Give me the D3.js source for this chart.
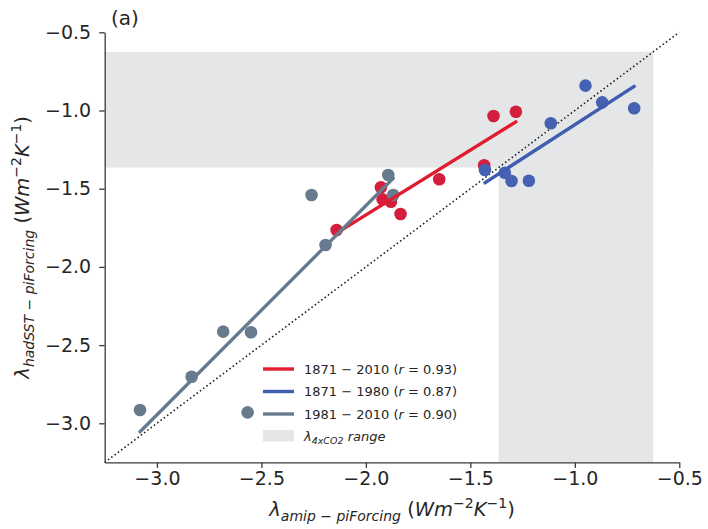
<!DOCTYPE html>
<html>
<head>
<meta charset="utf-8">
<script src="https://cdn.jsdelivr.net/npm/d3@7"></script>
<style>
  html, body { margin: 0; padding: 0; background: #fff; }
  svg { display: block; font-family: "DejaVu Sans", sans-serif; }
</style>
</head>
<body>
<svg id="chart" width="708" height="529"></svg>
<script>
// Feedback parameters: amip-piForcing (x) vs hadSST-piForcing (y)
const redX  = [-2.140, -1.928, -1.920, -1.880, -1.834, -1.649, -1.434, -1.389, -1.282];
const redY  = [-1.764, -1.491, -1.568, -1.583, -1.662, -1.440, -1.350, -1.035, -1.008];
const blueX = [-1.430, -1.335, -1.303, -1.220, -1.115, -0.949, -0.869, -0.716];
const blueY = [-1.380, -1.398, -1.451, -1.449, -1.082, -0.841, -0.948, -0.986];
const greyX = [-3.081, -2.834, -2.683, -2.550, -2.566, -2.260, -2.193, -1.893, -1.869];
const greyY = [-2.915, -2.702, -2.414, -2.418, -2.930, -1.540, -1.860, -1.412, -1.540];

// Range of the abrupt-4xCO2 feedback parameter
const range4x = [-1.365, -0.625];

const axisDomain = [-3.25, -0.5];
const tickValues = [-3.0, -2.5, -2.0, -1.5, -1.0, -0.5];

const seriesNames = ["1871 \u2212 2010", "1871 \u2212 1980", "1981 \u2212 2010"];
const seriesR = ["0.93", "0.87", "0.90"];

const colors = {
  red:   { dot: "#d31f3d", line: "#e21c2f" },
  blue:  { dot: "#4561b1", line: "#3f5eb0" },
  grey:  { dot: "#687a8e", line: "#687a8e" }
};

const svg = d3.select("#chart");
const margin = { left: 104.7, right: 28.7, top: 32.3, bottom: 66.6 };
const W = 708, H = 529;

const x = d3.scaleLinear().domain(axisDomain).range([margin.left, W - margin.right]);
const y = d3.scaleLinear().domain(axisDomain).range([H - margin.bottom, margin.top]);

// Shaded 4xCO2 range: horizontal and vertical bands
const band = svg.append("g").attr("fill", "#e5e6e8");
band.append("rect")
  .attr("x", x(axisDomain[0]))
  .attr("y", y(range4x[1]))
  .attr("width", x(range4x[1]) - x(axisDomain[0]))
  .attr("height", y(range4x[0]) - y(range4x[1]));
band.append("rect")
  .attr("x", x(range4x[0]))
  .attr("y", y(range4x[1]))
  .attr("width", x(range4x[1]) - x(range4x[0]))
  .attr("height", y(axisDomain[0]) - y(range4x[1]));

// 1:1 line
svg.append("line")
  .attr("x1", x(axisDomain[0])).attr("y1", y(axisDomain[0]))
  .attr("x2", x(axisDomain[1])).attr("y2", y(axisDomain[1]))
  .attr("stroke", "#1a1a1a").attr("stroke-width", 1.6)
  .attr("stroke-dasharray", "1.5,2.6");

function fit(xs, ys) {
  const mx = d3.mean(xs), my = d3.mean(ys);
  let sxy = 0, sxx = 0;
  xs.forEach((v, i) => { sxy += (v - mx) * (ys[i] - my); sxx += (v - mx) * (v - mx); });
  const b = sxy / sxx, a = my - b * mx;
  const [x0, x1] = d3.extent(xs);
  return [[x0, a + b * x0], [x1, a + b * x1]];
}

const series = [
  { xs: redX,  ys: redY,  c: colors.red },
  { xs: blueX, ys: blueY, c: colors.blue },
  { xs: greyX, ys: greyY, c: colors.grey }
];

// Points
series.forEach(s => {
  svg.append("g").selectAll("circle")
    .data(s.xs.map((v, i) => [v, s.ys[i]]))
    .join("circle")
    .attr("cx", d => x(d[0])).attr("cy", d => y(d[1]))
    .attr("r", 6.3).attr("fill", s.c.dot);
});

// Regression lines
const lineGen = d3.line().x(d => x(d[0])).y(d => y(d[1]));
series.forEach(s => {
  svg.append("path")
    .attr("d", lineGen(fit(s.xs, s.ys)))
    .attr("stroke", s.c.line).attr("stroke-width", 3.4)
    .attr("stroke-linecap", "round").attr("fill", "none");
});

// Axes
const fmt = v => d3.format(".1f")(v).replace("-", "\u2212");
const xAxis = d3.axisBottom(x).tickValues(tickValues).tickFormat(fmt).tickSize(5.5).tickPadding(3.5).tickSizeOuter(0);
const yAxis = d3.axisLeft(y).tickValues(tickValues).tickFormat(fmt).tickSize(5.5).tickPadding(8).tickSizeOuter(0);

function styleAxis(g) {
  g.select(".domain").attr("stroke", "#3a3a3a").attr("stroke-width", 1.3);
  g.selectAll(".tick line").attr("stroke", "#3a3a3a").attr("stroke-width", 1.3);
  g.selectAll(".tick text").attr("fill", "#262626").style("font-size", "19px")
    .style("font-family", "'DejaVu Sans', sans-serif");
}

svg.append("g").attr("transform", `translate(0,${y(axisDomain[0])})`).call(xAxis).call(styleAxis);
svg.append("g").attr("transform", `translate(${x(axisDomain[0])},0)`).call(yAxis).call(styleAxis);

// Math-style axis label builder
function mathLabel(g, sub) {
  const t = g.append("text").attr("fill", "#262626").style("font-size", "19.5px").attr("text-anchor", "middle");
  t.append("tspan").text("\u03bb").style("font-style", "italic");
  t.append("tspan").attr("dy", 5).style("font-size", "14px").style("font-style", "italic").text(sub[0]);
  t.append("tspan").style("font-size", "14px").text(" \u2212 ");
  t.append("tspan").style("font-size", "14px").style("font-style", "italic").text(sub[1]);
  t.append("tspan").attr("dy", -5).text(" (");
  t.append("tspan").style("font-style", "italic").text("Wm");
  t.append("tspan").attr("dy", -8).style("font-size", "14px").text("\u22122");
  t.append("tspan").attr("dy", 8).style("font-style", "italic").text("K");
  t.append("tspan").attr("dy", -8).style("font-size", "14px").text("\u22121");
  t.append("tspan").attr("dy", 8).text(")");
  return t;
}

mathLabel(svg.append("g").attr("transform", `translate(${(x(-3.25) + x(-0.5)) / 2},516)`), ["amip", "piForcing"]);
mathLabel(svg.append("g").attr("transform", `translate(29,${(y(-3.25) + y(-0.5)) / 2}) rotate(-90)`), ["hadSST", "piForcing"]);

// Panel tag
svg.append("text").attr("x", 111).attr("y", 25).attr("fill", "#262626")
  .style("font-size", "20px").text("(a)");

// Legend
const lg = svg.append("g").attr("transform", "translate(263,0)");
const rowsY = [369, 391.5, 414, 436];
series.forEach((s, i) => {
  lg.append("line").attr("x1", 0).attr("x2", 31).attr("y1", rowsY[i]).attr("y2", rowsY[i])
    .attr("stroke", s.c.line).attr("stroke-width", 3.4);
  const t = lg.append("text").attr("x", 41).attr("y", rowsY[i] + 4.8).attr("fill", "#262626").style("font-size", "13px");
  t.append("tspan").text(seriesNames[i] + " (");
  t.append("tspan").style("font-style", "italic").text("r");
  t.append("tspan").text(" = " + seriesR[i] + ")");
});
lg.append("rect").attr("x", 0).attr("y", rowsY[3] - 6).attr("width", 31).attr("height", 11.5).attr("fill", "#e5e6e8");
const tl = lg.append("text").attr("x", 41).attr("y", rowsY[3] + 4.8).attr("fill", "#262626").style("font-size", "13px").style("font-style", "italic");
tl.append("tspan").text("\u03bb");
tl.append("tspan").attr("dy", 3.5).style("font-size", "9.5px").text("4xCO2");
tl.append("tspan").attr("dy", -3.5).text(" range");
</script>
</body>
</html>
